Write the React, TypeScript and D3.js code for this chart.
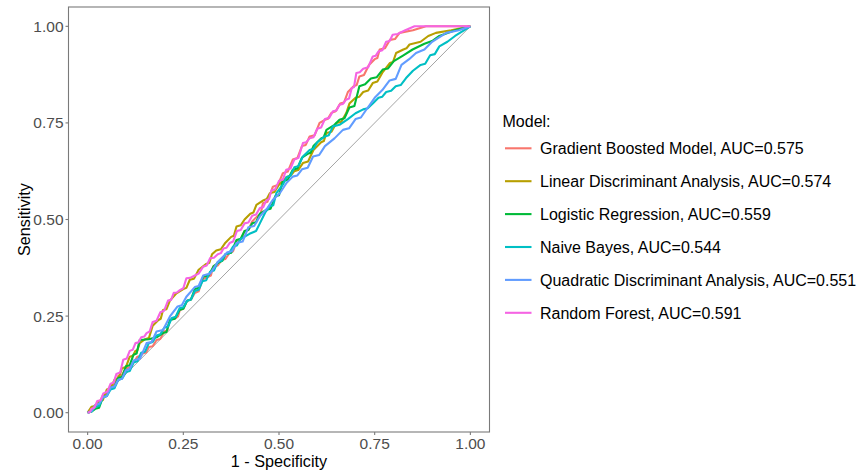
import React from "react";
import * as d3 from "d3";

type Pt = [number, number];

const modelNames = [
  "Gradient Boosted Model, AUC=0.575",
  "Linear Discriminant Analysis, AUC=0.574",
  "Logistic Regression, AUC=0.559",
  "Naive Bayes, AUC=0.544",
  "Quadratic Discriminant Analysis, AUC=0.551",
  "Random Forest, AUC=0.591",
];

const modelColors = ["#F8766D", "#B79F00", "#00BA38", "#00BFC4", "#619CFF", "#F564E3"];

const xTicks = [0, 0.25, 0.5, 0.75, 1];
const yTicks = [0, 0.25, 0.5, 0.75, 1];

const gbm: Pt[] = [
  [0, 0], [0.01, 0.004], [0.02, 0.02], [0.03, 0.024], [0.04, 0.045], [0.05, 0.048], [0.06, 0.07], [0.07, 0.073],
  [0.08, 0.095], [0.09, 0.098], [0.1, 0.115], [0.11, 0.117], [0.12, 0.13], [0.13, 0.145], [0.138, 0.147],
  [0.145, 0.154], [0.153, 0.156], [0.16, 0.17], [0.17, 0.172], [0.18, 0.188], [0.19, 0.191], [0.2, 0.21],
  [0.208, 0.213], [0.215, 0.24], [0.23, 0.245], [0.236, 0.249], [0.241, 0.266], [0.25, 0.269], [0.26, 0.29],
  [0.27, 0.293], [0.28, 0.31], [0.29, 0.314], [0.3, 0.345], [0.315, 0.352], [0.322, 0.355], [0.328, 0.378],
  [0.34, 0.381], [0.35, 0.395], [0.36, 0.398], [0.371, 0.414], [0.38, 0.418], [0.39, 0.445], [0.4, 0.448],
  [0.41, 0.47], [0.42, 0.473], [0.43, 0.495], [0.445, 0.51], [0.452, 0.514], [0.458, 0.542], [0.47, 0.546],
  [0.484, 0.585], [0.497, 0.589], [0.51, 0.62], [0.523, 0.624], [0.536, 0.655], [0.548, 0.659], [0.56, 0.69],
  [0.57, 0.693], [0.58, 0.715], [0.593, 0.718], [0.606, 0.75], [0.62, 0.758], [0.628, 0.761], [0.637, 0.776],
  [0.648, 0.78], [0.66, 0.8], [0.67, 0.803], [0.68, 0.83], [0.695, 0.845], [0.703, 0.848], [0.71, 0.87],
  [0.722, 0.874], [0.735, 0.9], [0.75, 0.915], [0.757, 0.918], [0.763, 0.94], [0.777, 0.943], [0.79, 0.965],
  [0.803, 0.967], [0.815, 0.983], [0.85, 0.99], [0.884, 1], [1, 1],
];

const lda: Pt[] = [
  [0, 0], [0.01, 0.015], [0.02, 0.017], [0.03, 0.03], [0.04, 0.033], [0.05, 0.06], [0.06, 0.063], [0.07, 0.085],
  [0.08, 0.088], [0.09, 0.115], [0.1, 0.118], [0.11, 0.145], [0.118, 0.147], [0.125, 0.16], [0.13, 0.162],
  [0.136, 0.18], [0.15, 0.19], [0.16, 0.193], [0.17, 0.225], [0.185, 0.24], [0.191, 0.243], [0.197, 0.266],
  [0.206, 0.268], [0.215, 0.29], [0.232, 0.309], [0.25, 0.32], [0.258, 0.323], [0.267, 0.344], [0.278, 0.347],
  [0.29, 0.37], [0.31, 0.385], [0.318, 0.388], [0.325, 0.41], [0.336, 0.42], [0.348, 0.423], [0.36, 0.44],
  [0.375, 0.455], [0.382, 0.458], [0.389, 0.482], [0.4, 0.485], [0.41, 0.5], [0.425, 0.515], [0.433, 0.518],
  [0.441, 0.538], [0.46, 0.55], [0.468, 0.553], [0.476, 0.568], [0.488, 0.571], [0.5, 0.59], [0.52, 0.61],
  [0.53, 0.613], [0.54, 0.625], [0.55, 0.628], [0.5625, 0.646], [0.576, 0.65], [0.59, 0.68], [0.61, 0.7],
  [0.617, 0.703], [0.624, 0.724], [0.637, 0.727], [0.65, 0.75], [0.663, 0.753], [0.676, 0.776], [0.684, 0.8],
  [0.7, 0.815], [0.71, 0.818], [0.72, 0.83], [0.733, 0.834], [0.745, 0.853], [0.757, 0.857], [0.77, 0.88],
  [0.79, 0.905], [0.798, 0.908], [0.806, 0.931], [0.825, 0.94], [0.833, 0.943], [0.841, 0.953], [0.87, 0.96],
  [0.89, 0.975], [0.91, 0.983], [0.95, 0.99], [1, 1],
];

const lr: Pt[] = [
  [0, 0], [0.01, 0.003], [0.02, 0.01], [0.03, 0.013], [0.04, 0.04], [0.05, 0.043], [0.06, 0.065], [0.07, 0.068],
  [0.08, 0.09], [0.09, 0.093], [0.1, 0.12], [0.11, 0.123], [0.12, 0.15], [0.128, 0.153], [0.136, 0.188],
  [0.16, 0.19], [0.18, 0.195], [0.197, 0.206], [0.206, 0.209], [0.215, 0.24], [0.228, 0.243], [0.24, 0.266],
  [0.25, 0.269], [0.26, 0.29], [0.27, 0.293], [0.28, 0.32], [0.291, 0.323], [0.302, 0.352], [0.316, 0.355],
  [0.33, 0.38], [0.345, 0.39], [0.352, 0.393], [0.36, 0.41], [0.375, 0.414], [0.389, 0.447], [0.4, 0.45],
  [0.41, 0.47], [0.42, 0.473], [0.43, 0.49], [0.44, 0.493], [0.45, 0.515], [0.467, 0.525], [0.478, 0.528],
  [0.49, 0.56], [0.5, 0.563], [0.51, 0.6], [0.523, 0.603], [0.536, 0.629], [0.548, 0.632], [0.56, 0.66],
  [0.575, 0.67], [0.583, 0.673], [0.59, 0.69], [0.61, 0.71], [0.617, 0.713], [0.624, 0.732], [0.645, 0.745],
  [0.658, 0.758], [0.671, 0.762], [0.684, 0.79], [0.697, 0.794], [0.71, 0.845], [0.725, 0.85], [0.74, 0.865],
  [0.755, 0.868], [0.771, 0.888], [0.785, 0.891], [0.8, 0.91], [0.825, 0.925], [0.849, 0.94], [0.88, 0.955],
  [0.9, 0.962], [0.919, 0.975], [0.96, 0.99], [1, 1],
];

const nb: Pt[] = [
  [0, 0], [0.01, 0.003], [0.02, 0.015], [0.03, 0.018], [0.04, 0.04], [0.05, 0.043], [0.06, 0.06], [0.07, 0.063],
  [0.08, 0.085], [0.09, 0.088], [0.1, 0.105], [0.11, 0.108], [0.12, 0.13], [0.13, 0.133], [0.14, 0.155],
  [0.15, 0.158], [0.16, 0.18], [0.17, 0.183], [0.18, 0.2], [0.19, 0.203], [0.2, 0.22], [0.21, 0.223],
  [0.22, 0.245], [0.23, 0.248], [0.24, 0.27], [0.25, 0.273], [0.26, 0.29], [0.27, 0.293], [0.28, 0.315],
  [0.29, 0.318], [0.3, 0.34], [0.31, 0.343], [0.32, 0.365], [0.33, 0.368], [0.34, 0.39], [0.35, 0.393],
  [0.36, 0.41], [0.37, 0.413], [0.38, 0.43], [0.39, 0.433], [0.4, 0.45], [0.423, 0.463], [0.44, 0.47],
  [0.45, 0.49], [0.465, 0.52], [0.476, 0.534], [0.485, 0.537], [0.493, 0.568], [0.51, 0.59], [0.52, 0.61],
  [0.53, 0.613], [0.54, 0.635], [0.55, 0.638], [0.5625, 0.663], [0.58, 0.68], [0.59, 0.683], [0.6, 0.7],
  [0.62, 0.715], [0.63, 0.718], [0.641, 0.741], [0.658, 0.745], [0.68, 0.76], [0.7, 0.775], [0.72, 0.785],
  [0.732, 0.788], [0.745, 0.8], [0.76, 0.815], [0.77, 0.818], [0.78, 0.83], [0.793, 0.833], [0.805, 0.845],
  [0.818, 0.848], [0.832, 0.866], [0.85, 0.885], [0.87, 0.9], [0.882, 0.903], [0.895, 0.925], [0.907, 0.928],
  [0.919, 0.948], [0.94, 0.96], [0.96, 0.975], [1, 1],
];

const qda: Pt[] = [
  [0, 0], [0.01, 0.004], [0.02, 0.02], [0.03, 0.023], [0.04, 0.04], [0.05, 0.043], [0.06, 0.065], [0.07, 0.068],
  [0.08, 0.085], [0.09, 0.088], [0.1, 0.11], [0.11, 0.113], [0.12, 0.135], [0.137, 0.14], [0.154, 0.18],
  [0.167, 0.183], [0.18, 0.21], [0.197, 0.214], [0.215, 0.249], [0.235, 0.275], [0.246, 0.278], [0.258, 0.3],
  [0.28, 0.325], [0.29, 0.328], [0.302, 0.355], [0.32, 0.36], [0.34, 0.39], [0.365, 0.415], [0.377, 0.418],
  [0.389, 0.439], [0.405, 0.443], [0.42, 0.48], [0.435, 0.483], [0.45, 0.508], [0.47, 0.53], [0.484, 0.551],
  [0.502, 0.568], [0.52, 0.595], [0.536, 0.611], [0.548, 0.614], [0.56, 0.63], [0.575, 0.634], [0.589, 0.663],
  [0.605, 0.667], [0.62, 0.69], [0.645, 0.71], [0.667, 0.732], [0.683, 0.736], [0.7, 0.76], [0.714, 0.764],
  [0.728, 0.784], [0.75, 0.815], [0.77, 0.835], [0.789, 0.86], [0.805, 0.864], [0.82, 0.9], [0.84, 0.915],
  [0.858, 0.931], [0.88, 0.94], [0.9, 0.96], [0.937, 0.983], [0.97, 0.99], [1, 1],
];

const rf: Pt[] = [
  [0, 0], [0.006, 0.002], [0.01, 0.01], [0.018, 0.013], [0.025, 0.03], [0.034, 0.032], [0.041, 0.05],
  [0.051, 0.054], [0.06, 0.075], [0.068, 0.078], [0.075, 0.1], [0.085, 0.104], [0.093, 0.137], [0.102, 0.14],
  [0.11, 0.16], [0.118, 0.163], [0.125, 0.18], [0.133, 0.182], [0.14, 0.195], [0.148, 0.197], [0.154, 0.206],
  [0.162, 0.21], [0.17, 0.235], [0.18, 0.238], [0.19, 0.26], [0.2, 0.264], [0.21, 0.29], [0.218, 0.292],
  [0.225, 0.31], [0.233, 0.311], [0.241, 0.317], [0.25, 0.322], [0.258, 0.348], [0.268, 0.349], [0.28, 0.355],
  [0.29, 0.36], [0.302, 0.378], [0.311, 0.381], [0.32, 0.4], [0.33, 0.401], [0.34, 0.41], [0.348, 0.413],
  [0.355, 0.425], [0.363, 0.427], [0.371, 0.439], [0.38, 0.443], [0.39, 0.47], [0.4, 0.473], [0.41, 0.49],
  [0.42, 0.492], [0.43, 0.51], [0.44, 0.513], [0.45, 0.53], [0.459, 0.532], [0.467, 0.55], [0.474, 0.553],
  [0.48, 0.575], [0.49, 0.578], [0.5, 0.6], [0.51, 0.603], [0.519, 0.629], [0.53, 0.632], [0.54, 0.655],
  [0.551, 0.66], [0.5625, 0.698], [0.571, 0.7], [0.58, 0.71], [0.59, 0.713], [0.6, 0.735], [0.61, 0.738],
  [0.62, 0.76], [0.631, 0.763], [0.641, 0.78], [0.65, 0.782], [0.658, 0.797], [0.667, 0.799], [0.675, 0.81],
  [0.683, 0.813], [0.69, 0.84], [0.696, 0.843], [0.702, 0.879], [0.711, 0.881], [0.72, 0.89], [0.733, 0.894],
  [0.745, 0.922], [0.753, 0.924], [0.76, 0.935], [0.77, 0.938], [0.78, 0.96], [0.789, 0.962], [0.797, 0.978],
  [0.81, 0.98], [0.83, 0.99], [0.854, 1], [0.9, 1], [1, 1],
];

const seriesData: Pt[][] = [gbm, lda, lr, nb, qda, rf];

const W = 859;
const H = 475;
const panel = { left: 68.5, right: 489.5, top: 7, bottom: 432 };
const font = "'Liberation Sans', Arial, Helvetica, sans-serif";

export default function App() {
  const x = d3.scaleLinear().domain([-0.05, 1.05]).range([panel.left, panel.right]);
  const y = d3.scaleLinear().domain([-0.05, 1.05]).range([panel.bottom, panel.top]);
  const line = d3
    .line<Pt>()
    .x((d) => x(d[0]))
    .y((d) => y(d[1]));

  const legendX = 505;
  const legendY0 = 148.3;
  const legendStep = 32.9;

  return (
    <svg
      width={W}
      height={H}
      style={{ position: "absolute", left: 0, top: 0, background: "#fff" }}
      fontFamily={font}
    >
      <rect x={0} y={0} width={W} height={H} fill="#fff" />
      <line x1={x(0)} y1={y(0)} x2={x(1)} y2={y(1)} stroke="#9a9a9a" strokeWidth={0.9} />
      {seriesData.map((s, i) => (
        <path
          key={i}
          d={line(s) || ""}
          fill="none"
          stroke={modelColors[i]}
          strokeWidth={2.1}
          strokeLinejoin="round"
          strokeLinecap="butt"
        />
      ))}
      <rect
        x={panel.left}
        y={panel.top}
        width={panel.right - panel.left}
        height={panel.bottom - panel.top}
        fill="none"
        stroke="#7a7a7a"
        strokeWidth={1.1}
      />
      {xTicks.map((t) => (
        <g key={"x" + t}>
          <line x1={x(t)} x2={x(t)} y1={panel.bottom} y2={panel.bottom + 3} stroke="#7a7a7a" strokeWidth={1.1} />
          <text x={x(t)} y={448.5} textAnchor="middle" fontSize={15.5} fill="#4d4d4d">
            {t.toFixed(2)}
          </text>
        </g>
      ))}
      {yTicks.map((t) => (
        <g key={"y" + t}>
          <line x1={panel.left - 3} x2={panel.left} y1={y(t)} y2={y(t)} stroke="#7a7a7a" strokeWidth={1.1} />
          <text x={panel.left - 5} y={y(t)} dy="0.36em" textAnchor="end" fontSize={15.5} fill="#4d4d4d">
            {t.toFixed(2)}
          </text>
        </g>
      ))}
      <text x={(panel.left + panel.right) / 2} y={466.5} textAnchor="middle" fontSize={16.2} fill="#000">
        1 - Specificity
      </text>
      <text
        transform={`translate(29.5, ${(panel.top + panel.bottom) / 2}) rotate(-90)`}
        textAnchor="middle"
        fontSize={16.2}
        fill="#000"
      >
        Sensitivity
      </text>
      <text x={502.5} y={126.5} fontSize={16} fill="#000">
        Model:
      </text>
      {modelNames.map((name, i) => {
        const yy = legendY0 + i * legendStep;
        return (
          <g key={name}>
            <line x1={legendX} x2={legendX + 26.5} y1={yy} y2={yy} stroke={modelColors[i]} strokeWidth={2.1} />
            <text x={540} y={yy} dy="0.36em" fontSize={16} fill="#000">
              {name}
            </text>
          </g>
        );
      })}
    </svg>
  );
}
